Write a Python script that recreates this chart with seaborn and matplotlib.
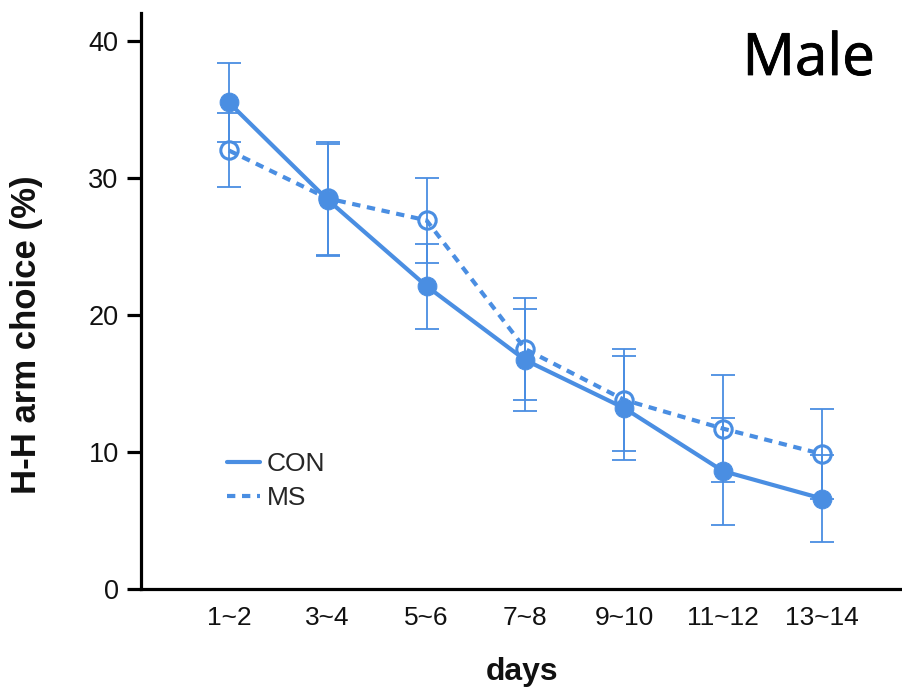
import numpy as np
import pandas as pd
import matplotlib
matplotlib.use("Agg")
import matplotlib.pyplot as plt
import matplotlib.patheffects as pe
import seaborn as sns
from matplotlib.lines import Line2D

days = ["1~2", "3~4", "5~6", "7~8", "9~10", "11~12", "13~14"]
con_mean = [35.5, 28.4, 22.1, 16.7, 13.2, 8.6, 6.6]
con_err = [2.9, 4.1, 3.1, 3.7, 3.8, 3.9, 3.2]
ms_mean = [32.0, 28.5, 26.9, 17.5, 13.8, 11.7, 9.85]
ms_err = [2.7, 4.1, 3.1, 3.7, 3.7, 3.9, 3.25]
groups = ["CON", "MS"]
title = "Male"

color = "#4a8ee2"

sns.set_theme(style="white")
plt.rcParams["font.family"] = ["Liberation Sans", "DejaVu Sans"]

fig = plt.figure(figsize=(9.03, 6.91), dpi=100)
ax = fig.add_axes([0.156, 0.1476, 0.844, 0.833])

x = np.arange(len(days))
ax.errorbar(x, con_mean, yerr=con_err, fmt="none", ecolor=color, elinewidth=1.3,
            capsize=8.3, capthick=1.3, zorder=2)
ax.errorbar(x, ms_mean, yerr=ms_err, fmt="none", ecolor=color, elinewidth=1.3,
            capsize=8.3, capthick=1.3, zorder=2)

sns.lineplot(x=days, y=ms_mean, ax=ax, color=color, lw=3,
             linestyle=(0, (2, 1.6)), marker="o", markersize=12.5,
             markerfacecolor="none", markeredgecolor=color, markeredgewidth=2.2,
             zorder=3, sort=False)
sns.lineplot(x=days, y=con_mean, ax=ax, color=color, lw=3,
             marker="o", markersize=13.5, markerfacecolor=color,
             markeredgecolor=color, zorder=4, sort=False)

ax.set_xlim(-0.89, 6.82)
ax.set_ylim(0, 42)
ax.set_yticks([0, 10, 20, 30, 40])
ax.set_xticks(x)
ax.set_xticklabels(days)

for s in ["top", "right"]:
    ax.spines[s].set_visible(False)
for s in ["left", "bottom"]:
    ax.spines[s].set_color("black")
    ax.spines[s].set_linewidth(2.3)

ax.tick_params(axis="y", length=10, width=2.3, color="black", pad=6,
               labelsize=19.5, labelcolor="#111111", left=True)
ax.tick_params(axis="x", length=0, pad=12, labelsize=19, labelcolor="#111111")

ax.set_xlabel("days", fontsize=23, fontweight="bold", labelpad=20, color="#111111")
ax.set_ylabel("H-H arm choice (%)", fontsize=25, fontweight="bold", color="#111111")
ax.yaxis.set_label_coords(-0.128, 0.441)

handles = [Line2D([0], [0], color=color, lw=3),
           Line2D([0], [0], color=color, lw=3, linestyle=(0, (2, 1.6)))]
ax.legend(handles, groups, loc="center left", bbox_to_anchor=(0.113, 0.188),
          frameon=False, fontsize=19, handlelength=1.25, handletextpad=0.25,
          labelspacing=0.38, borderpad=0, borderaxespad=0)

fig.text(0.969, 0.8915, title, ha="right", va="baseline", fontsize=42,
         fontweight="normal", family=["Open Sans", "Noto Sans", "DejaVu Sans"],
         color="black",
         path_effects=[pe.withStroke(linewidth=0.6, foreground="black")])

fig.savefig("out.png", dpi=100)
